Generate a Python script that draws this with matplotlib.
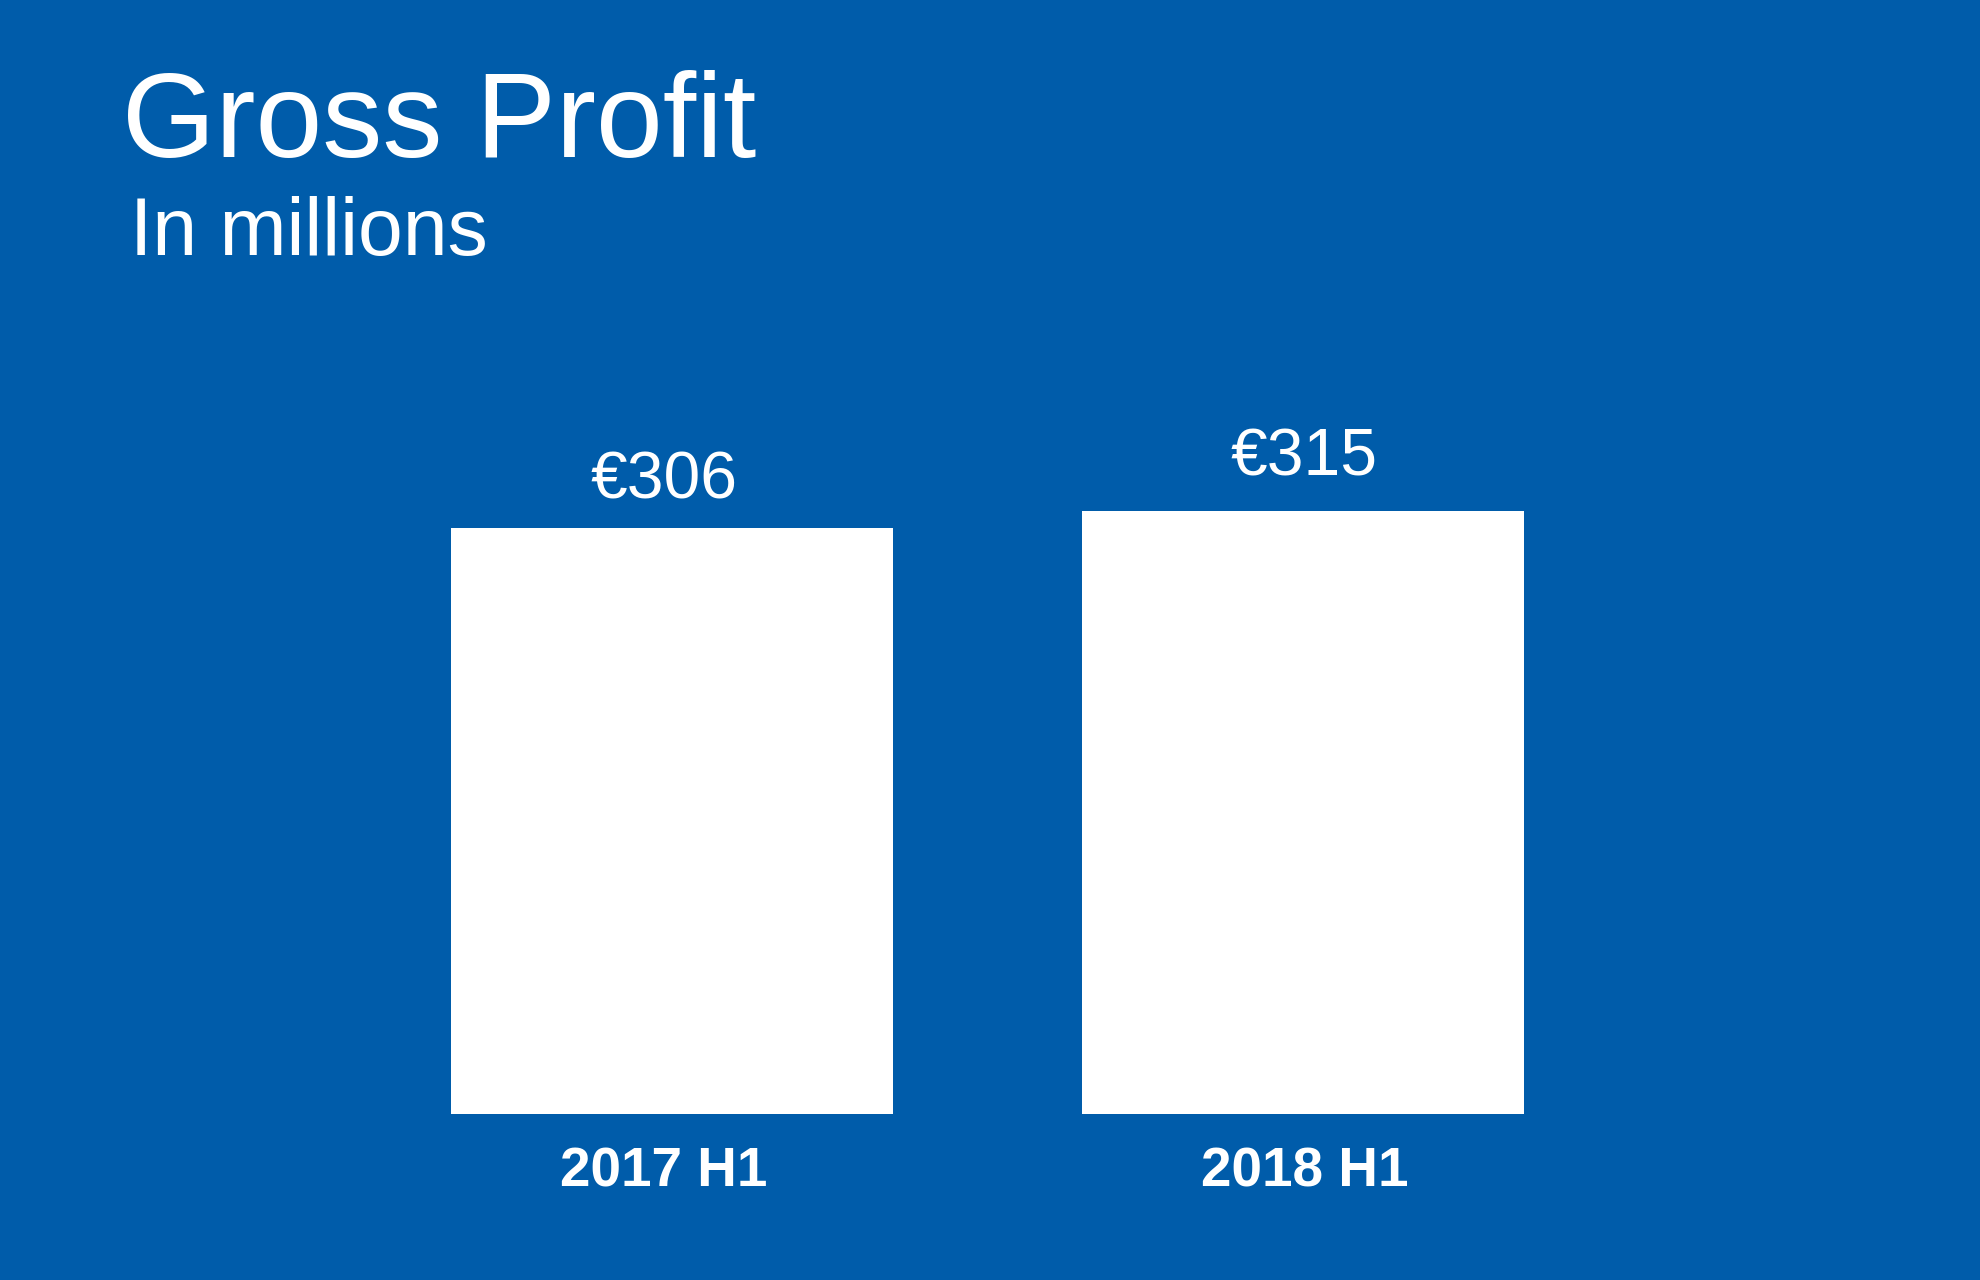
import matplotlib
matplotlib.use("Agg")
import matplotlib.pyplot as plt

# data
periods = ["2017 H1", "2018 H1"]
gross_profit = [306, 315]
value_labels = ["€306", "€315"]

bg = "#005CAA"
plt.rcParams["font.family"] = ["Liberation Sans", "DejaVu Sans"]

fig = plt.figure(figsize=(19.8, 12.8), dpi=100, facecolor=bg)
ax = fig.add_axes([0.18, 0.1297, 0.6374, 0.5984])
ax.set_facecolor(bg)

x = list(range(len(periods)))
ax.bar(x, gross_profit, width=0.70, color="white", edgecolor="none")
ax.set_xlim(-0.5, 1.5)
ax.set_ylim(0, 400)
ax.axis("off")

# small nudges of the labels, in points (the original slide isn't perfectly centred)
lab_dx = [-6, 1]
lab_dy = [21, 25.5]

# value labels above the bars
for i, v in enumerate(gross_profit):
    ax.annotate(value_labels[i], xy=(i, v), xytext=(lab_dx[i], lab_dy[i]),
                textcoords="offset points", ha="center", va="baseline",
                color="white", fontsize=47.5)

# category labels under the bars
for i, p in enumerate(periods):
    ax.annotate(p, xy=(i, 0), xytext=(lab_dx[i], -52), textcoords="offset points",
                ha="center", va="baseline", color="white", fontsize=39.5,
                fontweight="bold")

fig.text(0.0615, 0.8773, "Gross Profit", color="white", fontsize=86.5, va="baseline")
fig.text(0.0656, 0.8008, "In millions", color="white", fontsize=58, va="baseline")

fig.savefig("out.png", dpi=100, facecolor=bg)
